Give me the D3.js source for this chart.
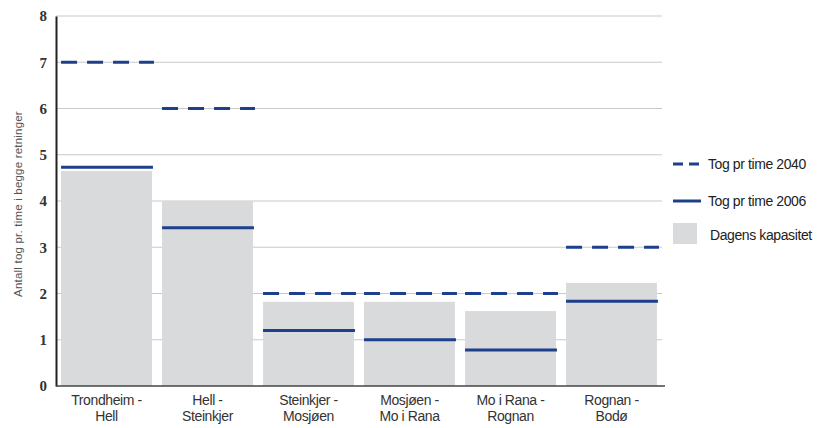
<!DOCTYPE html>
<html lang="no">
<head>
<meta charset="utf-8">
<title>Tog pr time</title>
<script src="https://d3js.org/d3.v7.min.js"></script>
<style>
  body { margin: 0; background: #fff; }
  svg text { font-family: "Liberation Sans", Arial, sans-serif; }
</style>
</head>
<body>
<svg id="chart" width="832" height="428"></svg>
<script>
// strekninger (to linjer per etikett)
const strekninger = [
  ["Trondheim -", "Hell"],
  ["Hell -", "Steinkjer"],
  ["Steinkjer -", "Mosjøen"],
  ["Mosjøen -", "Mo i Rana"],
  ["Mo i Rana -", "Rognan"],
  ["Rognan -", "Bodø"]
];
const kapasitet = [4.65, 4.0, 1.82, 1.82, 1.62, 2.23];
const tog2006 = [4.73, 3.42, 1.2, 1.0, 0.78, 1.83];
const tog2040 = [7.0, 6.0, 2.0, 2.0, 2.0, 3.0];
const yTicks = [0, 1, 2, 3, 4, 5, 6, 7, 8];
const legendLabels = ["Tog pr time 2040", "Tog pr time 2006", "Dagens kapasitet"];

const blue = "#1e3f8c";
const grey = "#d9dadc";

const svg = d3.select("#chart");
const margin = { top: 16, left: 56, bottom: 42 };
const plotRight = 662;

const x = d3.scaleBand()
  .domain(d3.range(strekninger.length))
  .range([margin.left, plotRight])
  .paddingInner(0.1)
  .paddingOuter(0.05);

const y = d3.scaleLinear()
  .domain([0, 8])
  .range([386, margin.top]);

// gridlines
svg.append("g")
  .selectAll("line")
  .data(yTicks.slice(1))
  .join("line")
  .attr("x1", margin.left)
  .attr("x2", plotRight)
  .attr("y1", d => y(d))
  .attr("y2", d => y(d))
  .attr("stroke", "#c9c9c9")
  .attr("stroke-width", 1);

// bars
svg.append("g")
  .selectAll("rect")
  .data(kapasitet)
  .join("rect")
  .attr("x", (d, i) => x(i))
  .attr("y", d => y(d))
  .attr("width", x.bandwidth())
  .attr("height", d => y(0) - y(d))
  .attr("fill", grey);

// 2006 lines
svg.append("g")
  .selectAll("line")
  .data(tog2006)
  .join("line")
  .attr("x1", (d, i) => x(i))
  .attr("x2", (d, i) => x(i) + x.bandwidth() + 1)
  .attr("y1", d => y(d))
  .attr("y2", d => y(d))
  .attr("stroke", blue)
  .attr("stroke-width", 3);

// 2040 dashed lines
svg.append("g")
  .selectAll("line")
  .data(tog2040)
  .join("line")
  .attr("x1", (d, i) => x(i))
  .attr("x2", (d, i) => x(i) + x.bandwidth() + 2)
  .attr("y1", d => y(d))
  .attr("y2", d => y(d))
  .attr("stroke", blue)
  .attr("stroke-width", 3)
  .attr("stroke-dasharray", "16,10");

// y axis
const yAxis = svg.append("g")
  .attr("transform", `translate(${margin.left},0)`)
  .call(d3.axisLeft(y).tickValues(yTicks).tickSize(0).tickPadding(9));
yAxis.select(".domain").attr("stroke", "#222").attr("stroke-width", 2);
yAxis.selectAll("text")
  .style("font-family", "'Liberation Serif', serif")
  .attr("font-size", 15)
  .attr("font-weight", "bold")
  .attr("fill", "#333");

// x axis
const xAxis = svg.append("g")
  .attr("transform", `translate(0,${y(0)})`)
  .call(d3.axisBottom(x).tickSize(0).tickFormat(""));
xAxis.select(".domain")
  .attr("d", `M${margin.left},0H${plotRight + 3}`)
  .attr("stroke", "#444")
  .attr("stroke-width", 1.5);

const xl = svg.append("g")
  .selectAll("text")
  .data(strekninger)
  .join("text")
  .attr("x", (d, i) => x(i) + x.bandwidth() / 2)
  .attr("y", 405)
  .attr("text-anchor", "middle")
  .attr("font-size", 14)
  .attr("letter-spacing", -0.4)
  .attr("fill", "#333");
xl.append("tspan").text(d => d[0]);
xl.append("tspan")
  .attr("x", (d, i) => x(i) + x.bandwidth() / 2)
  .attr("dy", 16)
  .text(d => d[1]);

// y title
svg.append("text")
  .attr("transform", `translate(22,${(y(0) + y(8)) / 2 + 3}) rotate(-90)`)
  .attr("text-anchor", "middle")
  .attr("font-size", 11.5)
  .attr("letter-spacing", 0.2)
  .attr("fill", "#555")
  .text("Antall tog pr. time i begge retninger");

// legend
const lg = svg.append("g").attr("transform", "translate(673,0)");
const legendY = [164, 201, 235];
lg.append("line")
  .attr("x1", 0).attr("x2", 28)
  .attr("y1", legendY[0]).attr("y2", legendY[0])
  .attr("stroke", blue).attr("stroke-width", 3)
  .attr("stroke-dasharray", "10,6");
lg.append("line")
  .attr("x1", 0).attr("x2", 28)
  .attr("y1", legendY[1]).attr("y2", legendY[1])
  .attr("stroke", blue).attr("stroke-width", 3);
lg.append("rect")
  .attr("x", 0).attr("y", legendY[2] - 12)
  .attr("width", 24).attr("height", 21)
  .attr("fill", grey);
lg.selectAll("text.leg")
  .data(legendLabels)
  .join("text")
  .attr("class", "leg")
  .attr("x", (d, i) => i === 2 ? 37 : 35)
  .attr("y", (d, i) => legendY[i] + 5)
  .attr("font-size", 14)
  .attr("letter-spacing", -0.4)
  .attr("fill", "#222")
  .text(d => d);
</script>
</body>
</html>
